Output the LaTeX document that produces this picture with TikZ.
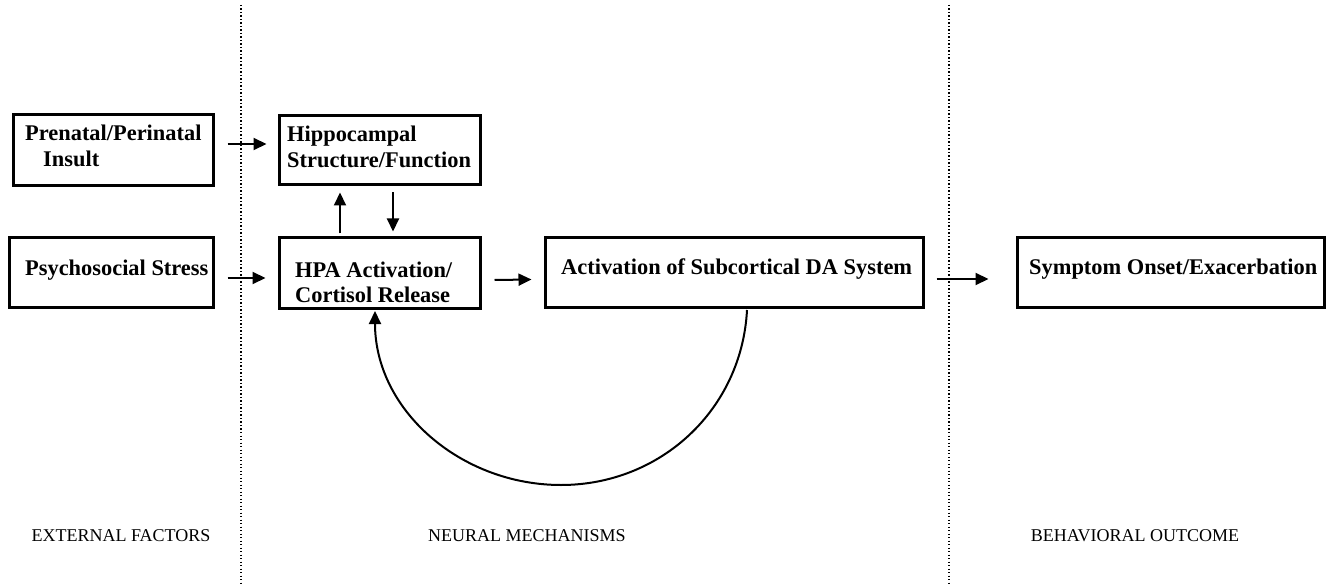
\documentclass[tikz,border=0pt]{standalone}
\usepackage{fontspec}
\setmainfont{Liberation Serif}
\usetikzlibrary{arrows.meta}
\tikzset{
  box/.style={draw, line width=3pt, rectangle, inner sep=0pt},
  btxt/.style={anchor=base west, inner sep=0pt, font=\fontsize{22.4}{26}\selectfont\bfseries},
  lbl/.style={anchor=base, inner sep=0pt, font=\fontsize{18}{22}\selectfont},
  arr/.style={line width=2pt, -{Triangle[length=13pt,width=12pt]}},
  sep/.style={line width=1.3pt, dash pattern=on 1.3pt off 2.2pt},
}
\begin{document}
\begin{tikzpicture}[x=1pt,y=-1pt]
\useasboundingbox (0,0) rectangle (1327,585);
% boxes
\node[box, minimum width=200pt, minimum height=71pt] (pre) at (113,150.5) {};
\node[box, minimum width=201pt, minimum height=69pt] (hip) at (379.5,150.5) {};
\node[box, minimum width=204pt, minimum height=69pt] (psy) at (111,272.5) {};
\node[box, minimum width=201pt, minimum height=70pt] (hpa) at (379.5,273) {};
\node[box, minimum width=378pt, minimum height=69pt] (da) at (734,272.5) {};
\node[box, minimum width=307pt, minimum height=69pt] (sym) at (1170.5,272.5) {};
% texts
\node[btxt] (t1) at (25,141) {Prenatal/Perinatal};
\node[btxt] (t2) at (43,167) {Insult};
\node[btxt] (t3) at (287,142) {Hippocampal};
\node[btxt] (t4) at (287,168) {Structure/Function};
\node[btxt] (t5) at (25,276) {Psychosocial Stress};
\node[btxt] (t6) at (295,277) {HPA Activation/};
\node[btxt] (t7) at (295,302) {Cortisol Release};
\node[btxt] (t8) at (561,275) {Activation of Subcortical DA System};
\node[btxt] (t9) at (1029,274) {Symptom Onset/Exacerbation};
% section labels
\node[lbl] (l1) at (121,541) {EXTERNAL FACTORS};
\node[lbl] (l2) at (527,541) {NEURAL MECHANISMS};
\node[lbl] (l3) at (1135,541) {BEHAVIORAL OUTCOME};
% separators
\coordinate (s1t) at (241,5); \coordinate (s1b) at (241,585);
\coordinate (s2t) at (949,5); \coordinate (s2b) at (949,585);
\draw[sep] (s1t) -- (s1b);
\draw[sep] (s2t) -- (s2b);
% arrows
\draw[arr] ([shift={(13,-6.5)}]pre.east) -- ([shift={(-11,-6.5)}]hip.west);
\draw[arr] ([shift={(13,5.5)}]psy.east) -- ([shift={(-12,5)}]hpa.west);
\draw[arr] ([shift={(13,7)}]hpa.east) -- ([shift={(-12,7)}]da.west);
\draw[arr] ([shift={(12,6.5)}]da.east) -- ([shift={(-27,6.5)}]sym.west);
\draw[arr] ([shift={(-39.5,-3)}]hpa.north) -- ([shift={(-39.5,6)}]hip.south);
\draw[arr] ([shift={(13.5,6)}]hip.south) -- ([shift={(13.5,-5)}]hpa.north);
\coordinate (cb) at (561,485);
\draw[arr] ([shift={(13,1.5)}]da.south) to[out=-93,in=0] (cb) to[out=180,in=-90] ([shift={(-4.5,1.5)}]hpa.south);
\end{tikzpicture}
\end{document}
